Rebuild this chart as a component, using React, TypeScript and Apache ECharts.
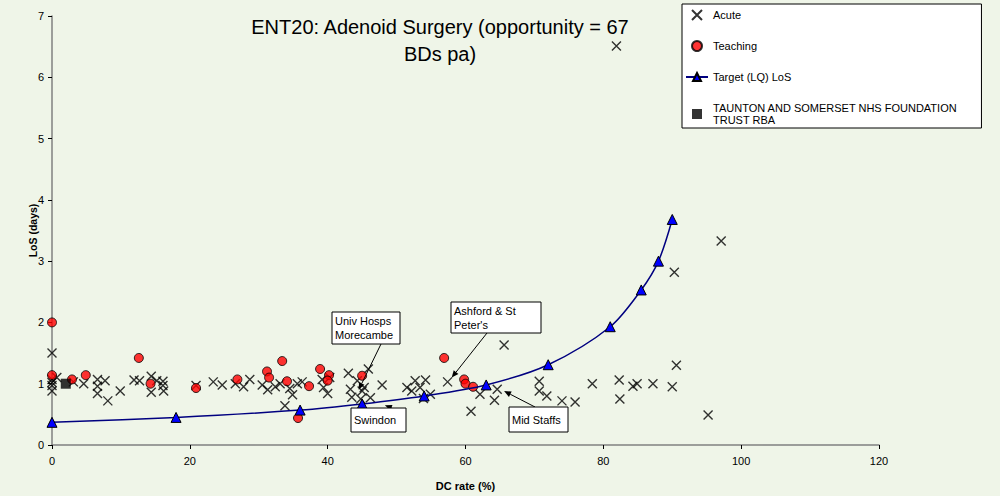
import React, { useEffect, useRef } from "react";
import * as echarts from "echarts";

const FONT = "'Liberation Sans', Arial, sans-serif";

const titleText = "ENT20: Adenoid Surgery (opportunity = 67\nBDs pa)";
const xAxisName = "DC rate (%)";
const yAxisName = "LoS (days)";

const seriesNames = [
  "Acute",
  "Teaching",
  "Target (LQ) LoS",
  "TAUNTON AND SOMERSET NHS FOUNDATION TRUST RBA",
];

const acute: [number, number][] = [
  [0, 1.5], [0, 1.07], [0, 1.02], [0, 0.97], [0, 0.88], [0.7, 1.1],
  [3.1, 1.03], [4.6, 1.0], [6.6, 1.07], [7.7, 1.05], [6.6, 0.96], [6.6, 0.84],
  [8.1, 0.72], [9.9, 0.88], [11.9, 1.06], [12.7, 1.05], [14.4, 1.12], [15.2, 1.05],
  [14.4, 0.86], [16.1, 1.04], [16.1, 0.97], [16.2, 0.88],
  [20.9, 0.97], [23.4, 1.03], [24.7, 0.98], [26.6, 1.0], [27.8, 0.95], [28.7, 1.07],
  [30.5, 0.98], [31.3, 0.9], [32.4, 0.95], [33.1, 1.0], [33.8, 0.64], [34.5, 0.92],
  [34.9, 0.82], [35.6, 1.0], [36.3, 1.03], [39.2, 1.07], [39.4, 0.94], [40.0, 0.84],
  [40.3, 1.1], [43.0, 1.17], [43.3, 0.91], [43.5, 0.78], [44.3, 1.05], [45.0, 0.88],
  [45.3, 0.94], [45.9, 1.24], [46.2, 0.77], [44.8, 0.75], [47.9, 0.98], [51.5, 0.94],
  [52.2, 0.88], [52.7, 1.05], [53.4, 0.94], [54.2, 1.06], [53.9, 0.76], [54.9, 0.83],
  [57.4, 1.03], [60.8, 0.55], [62.1, 0.83], [64.6, 0.91], [64.2, 0.73], [65.6, 1.63],
  [70.7, 1.04], [70.7, 0.88], [71.8, 0.8], [74.0, 0.72], [75.9, 0.7], [78.4, 1.0],
  [82.3, 1.06], [82.4, 0.75], [84.3, 0.96], [84.9, 1.0], [87.2, 1.0], [90.0, 0.95],
  [90.6, 1.3], [90.3, 2.82], [97.1, 3.33], [95.2, 0.49], [81.9, 6.51],
];

const teaching: [number, number][] = [
  [0, 2.0], [0, 1.14], [2.9, 1.07], [4.9, 1.14], [12.6, 1.42], [14.3, 1.0],
  [20.9, 0.93], [26.9, 1.07], [31.2, 1.2], [31.5, 1.1], [33.4, 1.37], [34.1, 1.04],
  [35.7, 0.44], [37.3, 0.96], [38.9, 1.24], [40.2, 1.14], [40.0, 1.05], [45.0, 1.13],
  [56.9, 1.42], [59.8, 1.07], [60.0, 1.0], [61.1, 0.95],
];

const targetLoS: [number, number][] = [
  [0, 0.37], [18, 0.45], [36, 0.57], [45, 0.67], [54, 0.8], [63, 0.98],
  [72, 1.31], [81, 1.93], [85.5, 2.53], [88, 3.0], [90, 3.68],
];

const taunton: [number, number][] = [[2, 1.0]];

const annotationLabels = ["Univ Hosps\nMorecambe", "Swindon", "Ashford & St\nPeter's", "Mid Staffs"];
const annotationTargets: [number, number][] = [
  [44.5, 0.9], [48.3, 0.65], [58.0, 1.1], [65.6, 0.88],
];
// layout of boxes (pixels): x, y, w, h, arrow start x, arrow start y
const annotationBoxes = [
  [332, 312, 68, 32, 381, 344],
  [351, 408, 55, 24, 392, 408],
  [451, 302, 90, 31, 487, 333],
  [509, 407, 59, 25, 535, 407],
];

const X_SYMBOL = "path://M0 0L10 10M10 0L0 10";
const SQ_SYMBOL = "path://M0 0H10V10H0Z";

export default function App() {
  const ref = useRef<HTMLDivElement>(null);
  useEffect(() => {
    if (!ref.current) return;
    const chart = echarts.init(ref.current, undefined, { renderer: "svg" });
    chart.setOption({
      animation: false,
      backgroundColor: "#EFF5E8",
      textStyle: { fontFamily: FONT },
      grid: { left: 52, right: 121, top: 16, bottom: 50 },
      legend: {
        orient: "vertical",
        left: 682,
        top: 4,
        padding: [5, 24, 2, 3],
        itemGap: 19,
        itemWidth: 22,
        itemHeight: 10,
        backgroundColor: "#FFFFFF",
        borderColor: "#000000",
        borderWidth: 1,
        borderRadius: 0,
        data: [
          { name: seriesNames[0] },
          { name: seriesNames[1] },
          { name: seriesNames[2] },
          { name: seriesNames[3], icon: SQ_SYMBOL },
        ],
        textStyle: { fontSize: 11, color: "#000", fontFamily: FONT, lineHeight: 12 },
        formatter: (n: string) =>
          n === seriesNames[3] ? "TAUNTON AND SOMERSET NHS FOUNDATION\nTRUST RBA" : n,
      },
      xAxis: {
        type: "value",
        min: 0,
        max: 120,
        interval: 20,
        name: xAxisName,
        nameLocation: "middle",
        nameGap: 35,
        nameMoveOverlap: false,
        nameTextStyle: { fontSize: 11, fontWeight: "bold", color: "#000", fontFamily: FONT },
        axisLine: { onZero: false, lineStyle: { color: "#808080", width: 1.5 } },
        axisTick: { show: true, length: 4, lineStyle: { color: "#000" } },
        axisLabel: { fontSize: 11, color: "#000", margin: 10, fontFamily: FONT },
        splitLine: { show: false },
      },
      yAxis: {
        type: "value",
        min: 0,
        max: 7,
        interval: 1,
        name: yAxisName,
        nameLocation: "middle",
        nameGap: 14,
        nameRotate: 90,
        nameMoveOverlap: false,
        nameTextStyle: { fontSize: 10.5, fontWeight: "bold", color: "#000", fontFamily: FONT },
        axisLine: { show: true, lineStyle: { color: "#808080", width: 1.5 } },
        axisTick: { show: true, length: 4, lineStyle: { color: "#000" } },
        axisLabel: { fontSize: 11, color: "#000", margin: 8, fontFamily: FONT },
        splitLine: { show: false },
      },
      series: [
        {
          name: seriesNames[0],
          type: "scatter",
          data: acute,
          symbol: X_SYMBOL,
          symbolSize: 9,
          itemStyle: { color: "rgba(0,0,0,0)", borderColor: "#000", borderWidth: 1.4 },
          z: 3,
        },
        {
          name: seriesNames[1],
          type: "scatter",
          data: teaching,
          symbol: "circle",
          symbolSize: 9,
          itemStyle: { color: "#FF0000", borderColor: "#000", borderWidth: 1 },
          z: 4,
        },
        {
          name: seriesNames[2],
          type: "line",
          data: targetLoS,
          smooth: 0.3,
          symbol: "triangle",
          symbolSize: 10,
          showAllSymbol: true,
          lineStyle: { color: "#000080", width: 1.5 },
          itemStyle: { color: "#0000FF", borderColor: "#000", borderWidth: 1 },
          z: 5,
        },
        {
          name: seriesNames[3],
          type: "scatter",
          data: taunton,
          symbol: SQ_SYMBOL,
          symbolSize: 10,
          symbolKeepAspect: true,
          itemStyle: { color: "#000000" },
          z: 6,
        },
      ],
    });

    const graphics: any[] = [
      {
        type: "text",
        x: 440,
        y: 13,
        z: 10,
        style: {
          text: titleText,
          font: `20px ${FONT}`,
          fill: "#000",
          textAlign: "center",
          textVerticalAlign: "top",
          lineHeight: 27,
        },
      },
    ];
    annotationLabels.forEach((label, i) => {
      const [bx, by, bw, bh, sx, sy] = annotationBoxes[i];
      const tp = chart.convertToPixel({ gridIndex: 0 }, annotationTargets[i]) as number[];
      const tx = tp[0], ty = tp[1];
      const dx = tx - sx, dy = ty - sy;
      const len = Math.sqrt(dx * dx + dy * dy) || 1;
      const ux = dx / len, uy = dy / len;
      const hl = 7, hw = 3;
      const baseX = tx - ux * hl, baseY = ty - uy * hl;
      graphics.push(
        {
          type: "line",
          z: 20,
          shape: { x1: sx, y1: sy, x2: baseX, y2: baseY },
          style: { stroke: "#000", lineWidth: 1 },
        },
        {
          type: "polygon",
          z: 20,
          shape: {
            points: [
              [tx, ty],
              [baseX - uy * hw, baseY + ux * hw],
              [baseX + uy * hw, baseY - ux * hw],
            ],
          },
          style: { fill: "#000" },
        },
        {
          type: "rect",
          z: 21,
          shape: { x: bx, y: by, width: bw, height: bh },
          style: { fill: "#FFFFFF", stroke: "#000", lineWidth: 1 },
        },
        {
          type: "text",
          z: 22,
          x: bx + 3,
          y: by + bh / 2,
          style: {
            text: label,
            font: `11px ${FONT}`,
            fill: "#000",
            textAlign: "left",
            textVerticalAlign: "middle",
            lineHeight: 14,
          },
        }
      );
    });
    chart.setOption({ graphic: graphics });

    return () => chart.dispose();
  }, []);
  return (
    <div
      ref={ref}
      style={{ position: "absolute", left: 0, top: 0, width: 1000, height: 496 }}
    />
  );
}
